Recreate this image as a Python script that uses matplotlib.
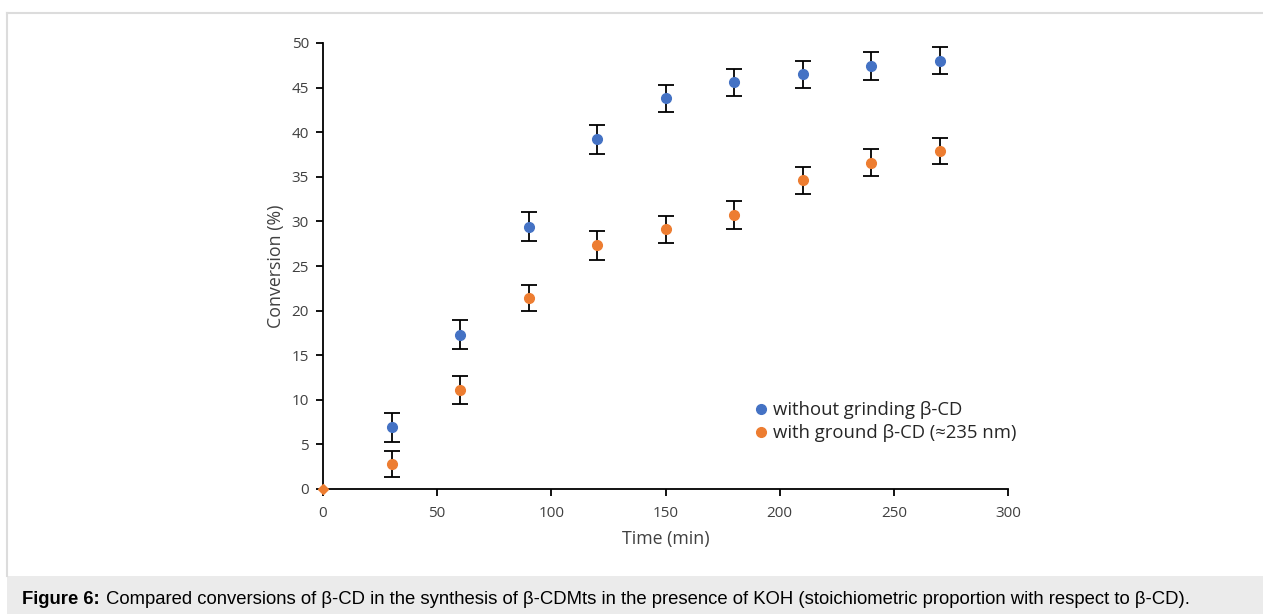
import matplotlib
matplotlib.use("Agg")
import matplotlib.pyplot as plt
from matplotlib.lines import Line2D
from matplotlib.patches import Rectangle

# Data
time_min = [30, 60, 90, 120, 150, 180, 210, 240, 270]
without_grinding = [6.9, 17.3, 29.4, 39.2, 43.8, 45.6, 46.5, 47.4, 48.0]
without_err = [1.6, 1.6, 1.6, 1.6, 1.5, 1.5, 1.5, 1.6, 1.5]
with_ground = [2.8, 11.1, 21.4, 27.3, 29.1, 30.7, 34.6, 36.6, 37.9]
with_err = [1.5, 1.6, 1.5, 1.6, 1.5, 1.6, 1.5, 1.5, 1.5]
origin_x = [0]
origin_y = [0]

xticks = [0, 50, 100, 150, 200, 250, 300]
yticks = [0, 5, 10, 15, 20, 25, 30, 35, 40, 45, 50]

blue = "#4472C4"
orange = "#ED7D31"
text_color = "#404040"

plt.rcParams['font.family'] = ['Open Sans', 'DejaVu Sans']

W, H = 1263, 614
fig = plt.figure(figsize=(W / 100, H / 100), dpi=100)
fig.patch.set_facecolor("white")

# page frame
fig.add_artist(Line2D([7 / W, 1.0], [1 - 13 / H, 1 - 13 / H], color="#dcdcdc", lw=1.5))
fig.add_artist(Line2D([7 / W, 7 / W], [1 - 13 / H, 1 - 576 / H], color="#dcdcdc", lw=1.5))
fig.add_artist(Rectangle((7 / W, 0), 1 - 7 / W, (H - 576) / H, transform=fig.transFigure,
                         facecolor="#ebebeb", edgecolor="none"))
cap_font = ["Liberation Sans", "DejaVu Sans"]
fig.text(22 / W, 1 - 599 / H, "Figure 6:", fontweight="bold", fontsize=13.3,
         family=cap_font, va="center", ha="left")
fig.text(106 / W, 1 - 599 / H,
         "Compared conversions of β-CD in the synthesis of β-CDMts in the presence of KOH "
         "(stoichiometric proportion with respect to β-CD).",
         fontsize=13.3, family=cap_font, va="center", ha="left")

ax = fig.add_axes([323 / W, 1 - 489 / H, (1008 - 323) / W, (489 - 43) / H])
ax.set_xlim(0, 300)
ax.set_ylim(0, 50)
for s in ("top", "right"):
    ax.spines[s].set_visible(False)
for s in ("left", "bottom"):
    ax.spines[s].set_color("#000000")
    ax.spines[s].set_linewidth(1.3)

ax.errorbar(time_min, without_grinding, yerr=without_err, fmt="none", ecolor="#000000",
            elinewidth=1.3, capsize=5.5, capthick=1.3, zorder=2)
ax.errorbar(time_min, with_ground, yerr=with_err, fmt="none", ecolor="#000000",
            elinewidth=1.3, capsize=5.5, capthick=1.3, zorder=2)
ax.plot(time_min, without_grinding, "o", color=blue, markersize=7, zorder=3,
        label="without grinding β-CD")
ax.plot(time_min, with_ground, "o", color=orange, markersize=7, zorder=3,
        label="with ground β-CD (≈235 nm)")
ax.plot(origin_x, origin_y, "D", color=orange, markersize=5.5, zorder=4, clip_on=False)

ax.set_xticks(xticks)
ax.set_yticks(yticks)
ax.tick_params(axis="both", direction="out", length=5, width=1.3, colors="#000000",
               labelcolor=text_color, labelsize=11)
ax.tick_params(axis="x", pad=7)
ax.tick_params(axis="y", pad=5)
ax.set_xlabel("Time (min)", fontsize=12.8, color=text_color, labelpad=7)
ax.set_ylabel("Conversion (%)", fontsize=12.8, color=text_color, labelpad=5)

leg = ax.legend(loc="upper left", bbox_to_anchor=(743 / W, 1 - 394 / H),
                bbox_transform=fig.transFigure, frameon=False, fontsize=13.3,
                handletextpad=0.1, handlelength=1.1, labelspacing=0.25, borderaxespad=0)
for t in leg.get_texts():
    t.set_color("#262626")

fig.savefig("out.png", dpi=100)
